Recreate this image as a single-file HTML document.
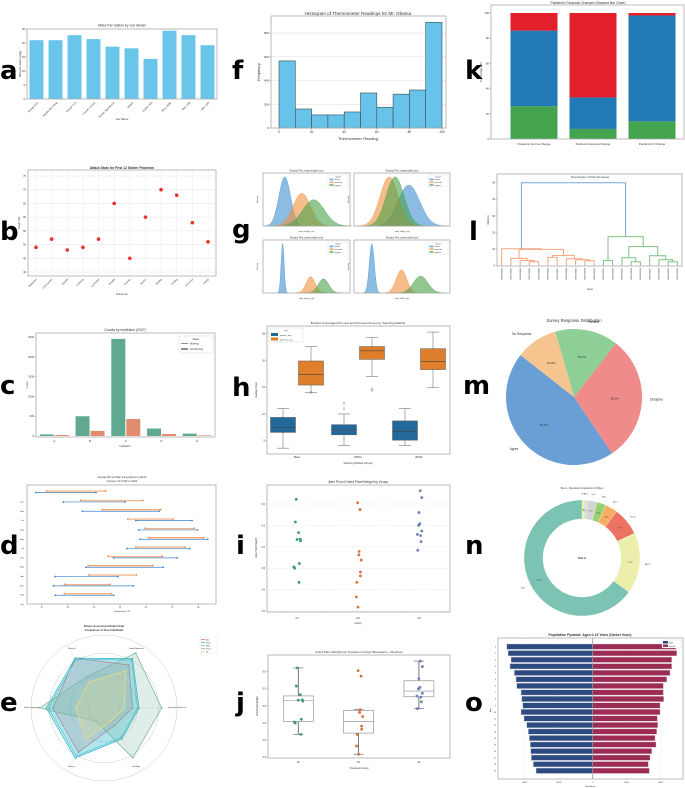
<!DOCTYPE html>
<html><head><meta charset="utf-8"><style>
html,body{margin:0;padding:0;background:#fff;}
svg{display:block;}
</style></head><body>
<svg id="fig" xmlns="http://www.w3.org/2000/svg" width="685" height="788" viewBox="0 0 685 788" font-family="Liberation Sans, sans-serif">
<rect x="0" y="0" width="685" height="788" fill="#fff"/>
<g font-family="DejaVu Sans, Liberation Sans, sans-serif" font-weight="bold" font-size="26" fill="#000">
<text x="0" y="79">a</text>
<text x="232" y="79">f</text>
<text x="465" y="79">k</text>
<text x="0" y="240">b</text>
<text x="232" y="238">g</text>
<text x="469" y="240">l</text>
<text x="0" y="394">c</text>
<text x="232" y="396">h</text>
<text x="463" y="394">m</text>
<text x="0" y="554">d</text>
<text x="236" y="554">i</text>
<text x="465" y="554">n</text>
<text x="0" y="711">e</text>
<text x="236" y="711">j</text>
<text x="465" y="711">o</text>
</g>
</svg>
<script>
// ---------- data ----------
const aCats=['Mazda RX4','Mazda RX4 Wag','Datsun 710','Hornet 4 Drive','Hornet Sportabout','Valiant','Duster 360','Merc 240D','Merc 230','Merc 280'];
const aVals=[21,21,22.8,21.4,18.7,18.1,14.3,24.4,22.8,19.2];
const fEdges=[0,10,20,30,40,50,60,70,80,90,100];
const fCounts=[565,160,110,110,135,295,175,285,320,890];
const kCats=['Pandemic Income Change','Pandemic Expense Change','Pandemic FI Change'];
const kGreen=[26,8,14];
const kBlue=[60,25,84];
const kRed=[14,67,2];
const bNames=['Bulbasaur','Charmander','Squirtle','Chikorita','Cyndaquil','Totodile','Treecko','Torchic','Mudkip','Turtwig','Chimchar','Piplup'];
const bAttack=[49,52,48,49,52,65,45,60,70,68,58,51];
const gTitles=['sepal length (cm)','sepal width (cm)','petal length (cm)','petal width (cm)'];
const gMeans=[[5.0,5.94,6.59],[3.43,2.77,2.97],[1.46,4.26,5.55],[0.25,1.33,2.03]];
const gSds=[[0.32,0.48,0.6],[0.36,0.3,0.3],[0.15,0.45,0.52],[0.09,0.19,0.26]];
const gRanges=[[3.8,8.6],[1.6,4.8],[-0.5,8.2],[-0.4,3.1]];
const lLinks=[[3,4,2.4],[2,20,3.2],[1,21,4.4],[9,10,3.0],[8,23,3.6],[7,24,4.2],[5,6,5.0],[26,25,6.2],[22,27,9.8],[0,28,10.2],
[11,12,3.2],[14,15,2.4],[13,31,4.8],[18,19,2.4],[17,33,3.6],[16,34,6.0],[32,35,11.5],[30,36,17.5],[29,37,50]];
const lGenes=['ENSG00001','ENSG00002','ENSG00003','ENSG00004','ENSG00005','ENSG00006','ENSG00007','ENSG00008','ENSG00009','ENSG00010','ENSG00011','ENSG00012','ENSG00013','ENSG00014','ENSG00015','ENSG00016','ENSG00017','ENSG00018','ENSG00019','ENSG00020'];
const cCats=['A','B','C','D','E'];
const cWorking=[40,500,2460,190,60];
const cNotWorking=[25,130,430,50,15];
const hGroups=['Basic','DMSA','BSSD'];
const hPre=[[3.6,6.55,7.5,9.35,11],[4.1,6.1,7,8,10],[4.1,5.1,6.7,8.7,11]];
const hPost=[[14,15.4,17.4,19.9,22.6],[17,20.2,21.8,22.6,24.3],[14.9,18.3,19.8,22.2,25.3]];
const hPreOut=[[],[11,12],[]];
const hPostOut=[[14],[14.4,14.7],[]];
const mLabels=['Agree','Disagree','Neutral','No Response'];
const mVals=[45,30,15,10];
const pgCtrl=[4.17,5.58,5.18,6.11,4.50,4.61,5.17,4.53,5.33,5.14];
const pgTrt1=[4.81,4.17,4.41,3.59,5.87,3.83,6.03,4.89,4.32,4.69];
const pgTrt2=[6.31,5.12,5.54,5.50,5.37,5.29,4.92,6.15,5.80,5.26];
const jitCtrl=[0.05,-0.04,0.08,-0.02,-0.06,0.06,0.0,-0.08,0.04,0.09];
const jitTrt1=[0.02,-0.03,0.06,0.0,0.05,-0.04,-0.01,0.03,0.06,0.08];
const jitTrt2=[0.03,0.05,0.02,-0.01,0.07,-0.04,-0.03,0.07,0.0,0.04];
const nLabels=['TiO2','MnO','CaO','MgO','Na2O','Fe2O3','Al2O3','SiO2'];
const nVals=[0.6,0.9,2.7,2.6,3.4,7.8,17,65];
const dMonths=['Dec','Nov','Oct','Sep','Aug','Jul','Jun','May','Apr','Mar','Feb','Jan'];
const dBlueMin=[22.7,33.3,40.6,61.1,62.2,62.7,57.7,52.5,42,30.2,29.5,30.2];
const dBlueMax=[45.8,56.9,70,82.6,84.6,88.6,81.7,76.9,71.6,54.2,60.1,52.6];
const dOrgMin=[26.9,39.9,48.2,58,64.6,66,61.1,50.5,42.8,43.1,33.7,33.7];
const dOrgMax=[49.6,63.7,70.6,75.3,83.4,87.1,79.9,71.2,67.5,61.3,51.1,51.7];
const eAxes=['Muscular Endurance','Cardio Endurance','Strength','Body Composition','Balance','Flexibility'];
const eNames=['Alex','Sarah','Mike','Emma','Jill'];
const eVals=[[3.9,6.8,7.9,7.0,7.0,2.8],[4.8,7.8,7.9,7.9,7.9,4.9],[4.6,7.6,7.7,7.6,7.6,4.7],[7.9,8.7,4.9,8.8,2.1,7.9],[2.8,5.9,4.1,3.9,5.0,2.0]];
const oAges=['0','1','2','3','4','5','6','7','8','9','10','11','12','13','14','15','16','17','18','19'];
const oMale=[5059,4980,4804,4863,4608,4510,4471,4216,4176,4118,4216,4039,3882,3784,3725,3667,3647,3608,3490,3333];
const oFemale=[4902,4941,4647,4647,4549,4353,4157,4157,4176,3961,3961,3804,3824,3765,3667,3725,3471,3373,3275,3333];

// ---------- helpers ----------
const NS='http://www.w3.org/2000/svg';
const svg=document.getElementById('fig');
function mk(tag,a,p){const e=document.createElementNS(NS,tag);for(const k in a)e.setAttribute(k,a[k]);(p||svg).appendChild(e);return e;}
function txt(x,y,s,size,p,extra){const t=mk('text',Object.assign({x:x,y:y,'font-size':size,fill:'#333'},extra||{}),p);t.textContent=s;return t;}
function lin(d0,d1,r0,r1){return v=>r0+(v-d0)/(d1-d0)*(r1-r0);}
function frame(x0,y0,x1,y1,p){return mk('rect',{x:x0,y:y0,width:x1-x0,height:y1-y0,fill:'none',stroke:'#aaa','stroke-width':0.8},p);}
function grp(name){const g=mk('g',{});return g;}
function yticks(p,x0,vals,sc,size,fmt,grid,x1){vals.forEach(v=>{const y=sc(v);mk('line',{x1:x0-1.5,x2:x0,y1:y,y2:y,stroke:'#666','stroke-width':0.4},p);if(grid)mk('line',{x1:x0,x2:x1,y1:y,y2:y,stroke:'#ddd','stroke-width':0.5},p);txt(x0-2,y+size*0.35,fmt?fmt(v):String(v),size,p,{'text-anchor':'end'});});}
function xticks(p,y0,vals,sc,size,fmt){vals.forEach(v=>{const x=sc(v);mk('line',{x1:x,x2:x,y1:y0,y2:y0+1.5,stroke:'#666','stroke-width':0.4},p);txt(x,y0+2+size,fmt?fmt(v):String(v),size,p,{'text-anchor':'middle'});});}

// ---------- a ----------
(function(){
const g=grp('panel-a-bar-chart');
const x0=27,x1=217,y0=29,y1=99;const ys=lin(0,25,y1,y0);const step=(x1-x0)/aCats.length;
txt(122,26.5,'Miles Per Gallon by Car Model',3.5,g,{'text-anchor':'middle'});
yticks(g,x0,[0,5,10,15,20,25],ys,2.8);
aVals.forEach((v,i)=>{const cx=x0+step*(i+0.5);
const r=mk('rect',{x:cx-7,y:ys(v),width:14,height:y1-ys(v),fill:'#6ac5ea'},g);


txt(cx+2,y1+4,aCats[i],2.6,g,{'text-anchor':'end',transform:`rotate(-45 ${cx+2} ${y1+4})`});});
frame(x0,y0,x1,y1,g);
txt(122,120,'Car Name',2.8,g,{'text-anchor':'middle'});
txt(21,64,'Miles per Gallon (mpg)',2.6,g,{'text-anchor':'middle',transform:'rotate(-90 21 64)'});
})();

// ---------- f ----------
(function(){
const g=grp('panel-f-histogram');
const x0=271,x1=446,y0=16,y1=128;const xs=lin(0,100,279,442),ys=lin(0,800,128,33);
txt(358,15,'Histogram of Thermometer Readings for Mr. Obama',4.6,g,{'text-anchor':'middle'});
yticks(g,x0,[0,200,400,600,800],ys,3,null,true,x1);
fCounts.forEach((c,i)=>{const r=mk('rect',{x:xs(fEdges[i]),y:ys(c),width:xs(fEdges[i+1])-xs(fEdges[i]),height:y1-ys(c),fill:'#67c3ea',stroke:'#3a4a55','stroke-width':0.6},g);

});
frame(x0,y0,x1,y1,g);
xticks(g,y1,[0,20,40,60,80,100],xs,3.2);
txt(358,140,'Thermometer Reading',4,g,{'text-anchor':'middle'});
txt(260,72,'Frequency',3.8,g,{'text-anchor':'middle',transform:'rotate(-90 260 72)'});
})();

// ---------- k ----------
(function(){
const g=grp('panel-k-stacked-bar');
const x0=491,x1=684,y0=5,y1=139;const ys=lin(0,100,y1,13);const kx=i=>534+i*59;
txt(588,4,'Pandemic Financial Changes (Stacked Bar Chart)',3.4,g,{'text-anchor':'middle'});
yticks(g,x0,[0,20,40,60,80,100],ys,2.8);
kCats.forEach((c,i)=>{let base=0;[[kGreen,'#43a34f'],[kBlue,'#2179b5'],[kRed,'#e41f2c']].forEach(([arr,col],j)=>{const v=arr[i];
const r=mk('rect',{x:kx(i)-23.5,y:ys(base+v),width:47,height:ys(base)-ys(base+v),fill:col},g);


base+=v;});
txt(kx(i),145,c,2.8,g,{'text-anchor':'middle'});});
frame(x0,y0,x1,y1,g);
txt(482,72,'Percentage (%)',2.8,g,{'text-anchor':'middle',transform:'rotate(-90 482 72)'});
})();

// ---------- b ----------
(function(){
const g=grp('panel-b-scatter');
const x0=28,x1=216,y0=170,y1=276;const ys=lin(40,75,272,176);const xs=i=>36+i*(172/11);
txt(122,169,'Attack Stats for First 12 Starter Pokemon',3.3,g,{'text-anchor':'middle','font-weight':'bold'});
[40,45,50,55,60,65,70,75].forEach(v=>{mk('line',{x1:x0,x2:x1,y1:ys(v),y2:ys(v),stroke:'#e6e6e6','stroke-width':0.5},g);txt(x0-2,ys(v)+1,String(v),2.6,g,{'text-anchor':'end'});});
bNames.forEach((n,i)=>{mk('line',{x1:xs(i),x2:xs(i),y1:y0,y2:y1,stroke:'#eee','stroke-width':0.5},g);txt(xs(i)+1,y1+3.5,n,2.4,g,{'text-anchor':'end',transform:`rotate(-45 ${xs(i)+1} ${y1+3.5})`});});
bAttack.forEach((v,i)=>{const c=mk('circle',{cx:xs(i),cy:ys(v),r:1.8,fill:'#e8322c'},g);

});
frame(x0,y0,x1,y1,g);
txt(122,295,'Pokemon',2.8,g,{'text-anchor':'middle'});
txt(20,223,'Attack Stat',2.6,g,{'text-anchor':'middle',transform:'rotate(-90 20 223)'});
})();

// ---------- g ----------
(function(){
const g=grp('panel-g-density-grid');
const boxes=[[263,173,350,226],[354,173,450,226],[263,240,350,293],[354,240,450,293]];
const cols=['#3f8fcf','#f0903a','#4aa24a'];
boxes.forEach((b,k)=>{const [x0,y0,x1,y1]=b;const xs=lin(gRanges[k][0],gRanges[k][1],x0,x1);
txt((x0+x1)/2,y0-1.5,'Density Plot: '+gTitles[k],2.5,g,{'text-anchor':'middle'});
let maxd=0;gSds[k].forEach(s=>{maxd=Math.max(maxd,1/s);});
const ys=lin(0,maxd*1.08,y1,y0);
gMeans[k].forEach((m,j)=>{const s=gSds[k][j];let d=`M${xs(m-3.5*s)},${y1}`;for(let t=-3.5;t<=3.5;t+=0.1){const v=m+t*s;d+=` L${xs(v).toFixed(2)},${ys(Math.exp(-t*t/2)/s).toFixed(2)}`;}d+=` L${xs(m+3.5*s)},${y1} Z`;
const p=mk('path',{d:d,fill:cols[j],'fill-opacity':0.6,stroke:cols[j],'stroke-width':0.4},g);

});
frame(x0,y0,x1,y1,g);
const lx=x1-22;mk('rect',{x:lx,y:y0+2,width:20,height:12,fill:'#fff',stroke:'#ddd','stroke-width':0.4},g);
txt(lx+10,y0+4.5,'species',1.8,g,{'text-anchor':'middle'});
['setosa','versicolor','virginica'].forEach((s,j)=>{mk('rect',{x:lx+1.5,y:y0+5.5+j*2.8,width:4,height:1.8,fill:cols[j],'fill-opacity':0.7},g);txt(lx+6.5,y0+7.2+j*2.8,s,1.8,g);});
txt((x0+x1)/2,y1+6,gTitles[k].replace(' (','_(').replace(/ /g,'_'),1.9,g,{'text-anchor':'middle'});
txt(x0-5,(y0+y1)/2,'Density',2,g,{'text-anchor':'middle',transform:`rotate(-90 ${x0-5} ${(y0+y1)/2})`});});
})();

// ---------- l ----------
(function(){
const g=grp('panel-l-dendrogram');
const x0=497,x1=682,y0=174,y1=266;const xs=lin(0,200,x0,x1),ys=lin(0,50,265.7,182.7);
txt(590,178,'Dendrogram of First 20 Genes',2.8,g,{'text-anchor':'middle'});
yticks(g,x0,[0,10,20,30,40,50],ys,2.5);
const pos={},ht={};for(let i=0;i<20;i++){pos[i]=5+10*i;ht[i]=0;}
lLinks.forEach((L,k)=>{const id=20+k;const [a,b,h]=L;const col=k===18?'#7aa3d6':(k<10?'#f4a57e':'#7cc47f');
const p=mk('path',{d:`M${xs(pos[a])},${ys(ht[a])} V${ys(h)} H${xs(pos[b])} V${ys(ht[b])}`,fill:'none',stroke:col,'stroke-width':1},g);


pos[id]=(pos[a]+pos[b])/2;ht[id]=h;});
frame(x0,y0,x1,y1,g);
lGenes.forEach((n,i)=>{const x=xs(5+10*i);txt(x+0.8,268,n,2.1,g,{'text-anchor':'end',transform:`rotate(-90 ${x+0.8} 268)`});});
txt(590,290,'Gene',2.5,g,{'text-anchor':'middle'});
txt(489,220,'Distance',2.4,g,{'text-anchor':'middle',transform:'rotate(-90 489 220)'});
})();

// ---------- c ----------
(function(){
const g=grp('panel-c-grouped-bar');
const x0=36,x1=215,y0=333,y1=437;const ys=lin(0,2500,436,337.3);const cx=i=>54.3+i*35.75;
txt(125,331,'Counts by Institution (2007)',3.4,g,{'text-anchor':'middle'});
yticks(g,x0,[0,500,1000,1500,2000,2500],ys,2.6);
cCats.forEach((c,i)=>{
const r1=mk('rect',{x:cx(i)-14.5,y:ys(cWorking[i]),width:14,height:436-ys(cWorking[i]),fill:'#5ea98f'},g);


const r2=mk('rect',{x:cx(i)+0.5,y:ys(cNotWorking[i]),width:14,height:436-ys(cNotWorking[i]),fill:'#e28c6f'},g);


txt(cx(i),442,c,2.8,g,{'text-anchor':'middle'});});
frame(x0,y0,x1,y1,g);
mk('rect',{x:179,y:336,width:34,height:17,fill:'#fff',stroke:'#ccc','stroke-width':0.4},g);
txt(196,340,'Status',2.4,g,{'text-anchor':'middle'});
mk('line',{x1:181,x2:188,y1:343.5,y2:343.5,stroke:'#444','stroke-width':0.6},g);txt(190,344.5,'Working',2.4,g);
mk('line',{x1:181,x2:188,y1:349,y2:349,stroke:'#444','stroke-width':1.2},g);txt(190,350,'Not Working',2.4,g);
txt(125,447,'Institution',2.6,g,{'text-anchor':'middle'});
txt(28,385,'Count',2.6,g,{'text-anchor':'middle',transform:'rotate(-90 28 385)'});
})();

// ---------- h ----------
(function(){
const g=grp('panel-h-boxplot');
const x0=267,x1=450,y0=326,y1=454;const ys=lin(5,25,440.7,333.7);const gx=i=>297+i*61;
txt(358,324,'Boxplot of Averaged Pre-test and Post-test Scores by Teaching Method',3,g,{'text-anchor':'middle'});
yticks(g,x0,[5,10,15,20,25],ys,2.6);
function box(cx,s,col,outs,name){const b=mk('g',{},g);
mk('line',{x1:cx,x2:cx,y1:ys(s[0]),y2:ys(s[1]),stroke:'#777','stroke-width':0.6},b);
mk('line',{x1:cx,x2:cx,y1:ys(s[3]),y2:ys(s[4]),stroke:'#777','stroke-width':0.6},b);
mk('line',{x1:cx-6,x2:cx+6,y1:ys(s[0]),y2:ys(s[0]),stroke:'#777','stroke-width':0.6},b);
mk('line',{x1:cx-6,x2:cx+6,y1:ys(s[4]),y2:ys(s[4]),stroke:'#777','stroke-width':0.6},b);
mk('rect',{x:cx-12.5,y:ys(s[3]),width:25,height:ys(s[1])-ys(s[3]),fill:col,stroke:'#555','stroke-width':0.5},b);
mk('line',{x1:cx-12.5,x2:cx+12.5,y1:ys(s[2]),y2:ys(s[2]),stroke:'#444','stroke-width':0.6},b);
outs.forEach(o=>mk('circle',{cx:cx,cy:ys(o),r:1,fill:'none',stroke:'#777','stroke-width':0.4},b));}
hGroups.forEach((n,i)=>{box(gx(i)-14,hPre[i],'#24699c',hPreOut[i],'box-pretest-'+n.toLowerCase());box(gx(i)+14,hPost[i],'#e07f2b',hPostOut[i],'box-posttest-'+n.toLowerCase());txt(gx(i),458,n,2.6,g,{'text-anchor':'middle'});});
frame(x0,y0,x1,y1,g);
mk('rect',{x:269,y:328,width:34,height:14,fill:'#fff',stroke:'#ccc','stroke-width':0.4},g);
txt(286,331,'test',2.2,g,{'text-anchor':'middle'});
mk('rect',{x:271,y:333,width:7,height:3,fill:'#24699c'},g);txt(280,335.8,'pretest_avg',2.2,g);
mk('rect',{x:271,y:337.5,width:7,height:3,fill:'#e07f2b'},g);txt(280,340.3,'posttest_avg',2.2,g);
txt(358,464,'Teaching Method (Group)',2.6,g,{'text-anchor':'middle'});
txt(257,390,'Average Score',2.4,g,{'text-anchor':'middle',transform:'rotate(-90 257 390)'});
})();

// ---------- m ----------
(function(){
const g=grp('panel-m-pie');
const cx=574,cy=397,R=68;const cols=['#6a9fd5','#ef8b8a','#8dcf96','#f5c48f'];
txt(574,322,'Survey Response Distribution',4.2,g,{'text-anchor':'middle'});
const tot=mVals.reduce((a,b)=>a+b,0);let a0=142;
mVals.forEach((v,i)=>{const a1=a0+v/tot*360;const r0=a0*Math.PI/180,r1=a1*Math.PI/180;
const p=mk('path',{d:`M${cx},${cy} L${cx+R*Math.cos(r0)},${cy-R*Math.sin(r0)} A${R},${R} 0 ${a1-a0>180?1:0} 0 ${cx+R*Math.cos(r1)},${cy-R*Math.sin(r1)} Z`,fill:cols[i]},g);


const am=(a0+a1)/2*Math.PI/180;
txt(cx+R*0.6*Math.cos(am),cy-R*0.6*Math.sin(am)+1,v.toFixed(1)+'%',3,g,{'text-anchor':'middle'});
txt(cx+R*1.12*Math.cos(am),cy-R*1.12*Math.sin(am)+1,mLabels[i],3.2,g,{'text-anchor':Math.cos(am)<-0.1?'end':(Math.cos(am)>0.1?'start':'middle')});
a0=a1;});
})();

// ---------- i ----------
(function(){
const g=grp('panel-i-jitter');
const x0=267,x1=450,y0=485,y1=612;const ys=lin(3.5,6.0,611,504);const gx=i=>297+i*61;
txt(358,483,'Jitter Plot of Dried Plant Weight by Group',3.3,g,{'text-anchor':'middle'});
[3.5,4.0,4.5,5.0,5.5,6.0].forEach(v=>{mk('line',{x1:x0,x2:x1,y1:ys(v),y2:ys(v),stroke:'#ddd','stroke-width':0.5,'stroke-dasharray':'1.5,1'},g);txt(x0-2,ys(v)+1,v.toFixed(1),2.5,g,{'text-anchor':'end'});});
const sets=[[pgCtrl,jitCtrl,'#3f9a77','ctrl'],[pgTrt1,jitTrt1,'#d9703e','trt1'],[pgTrt2,jitTrt2,'#6b7fb6','trt2']];
sets.forEach(([vals,jit,col,n],i)=>{vals.forEach((v,k)=>{const c=mk('circle',{cx:gx(i)+jit[k]*40,cy:ys(v),r:1.4,fill:col},g);

});
txt(gx(i),619,n,2.5,g,{'text-anchor':'middle'});});
frame(x0,y0,x1,y1,g);
txt(358,624,'Group',2.5,g,{'text-anchor':'middle'});
txt(257,548,'Dried Plant Weight',2.4,g,{'text-anchor':'middle',transform:'rotate(-90 257 548)'});
})();

// ---------- j ----------
(function(){
const g=grp('panel-j-beeswarm-boxplot');
const x0=268,x1=450,y0=655,y1=758;const ys=lin(3.5,6.0,757.3,671.7);const gx=i=>298.3+i*60.3;
txt(359,653,'Dried Plant Weights by Treatment Group (Beeswarm + Boxplot)',3.1,g,{'text-anchor':'middle'});
yticks(g,x0,[3.5,4.0,4.5,5.0,5.5,6.0],ys,2.4,v=>v.toFixed(1));
function q(a,p){const s=[...a].sort((x,y)=>x-y);const idx=(s.length-1)*p;const lo=Math.floor(idx);return s[lo]+(s[Math.min(lo+1,s.length-1)]-s[lo])*(idx-lo);}
const sets=[[pgCtrl,jitCtrl,'#3f9a77','ctrl'],[pgTrt1,jitTrt1,'#d9703e','trt1'],[pgTrt2,jitTrt2,'#6b7fb6','trt2']];
sets.forEach(([vals,jit,col,n],i)=>{const cx=gx(i);const q1=q(vals,.25),q2=q(vals,.5),q3=q(vals,.75);const iqr=q3-q1;
const inside=vals.filter(v=>v>=q1-1.5*iqr&&v<=q3+1.5*iqr);const mn=Math.min(...inside),mx=Math.max(...inside);
const b=mk('g',{},g);
mk('line',{x1:cx,x2:cx,y1:ys(mn),y2:ys(q1),stroke:'#555','stroke-width':0.8},b);
mk('line',{x1:cx,x2:cx,y1:ys(q3),y2:ys(mx),stroke:'#555','stroke-width':0.8},b);
mk('line',{x1:cx-5,x2:cx+5,y1:ys(mn),y2:ys(mn),stroke:'#555','stroke-width':0.6},b);
mk('line',{x1:cx-5,x2:cx+5,y1:ys(mx),y2:ys(mx),stroke:'#555','stroke-width':0.6},b);
mk('rect',{x:cx-15,y:ys(q3),width:30,height:ys(q1)-ys(q3),fill:'#fff',stroke:'#888','stroke-width':0.6},b);
mk('line',{x1:cx-15,x2:cx+15,y1:ys(q2),y2:ys(q2),stroke:'#888','stroke-width':0.6},b);
vals.forEach((v,k)=>{const c=mk('circle',{cx:cx+jit[k]*50,cy:ys(v),r:1.4,fill:col},g);

});
txt(cx,763,n,2.4,g,{'text-anchor':'middle'});});
frame(x0,y0,x1,y1,g);
txt(359,769,'Treatment Group',2.5,g,{'text-anchor':'middle'});
txt(258,706,'Dried Plant Weight',2.3,g,{'text-anchor':'middle',transform:'rotate(-90 258 706)'});
})();

// ---------- n ----------
(function(){
const g=grp('panel-n-donut');
const cx=582,cy=558,R=58,r=39;const cols=['#f2ee6b','#cfe5dc','#d4d4d4','#98d073','#f5ad62','#ec7262','#ebefab','#7cc3b4'];
txt(582,489,'Site A - Chemical Composition of Pottery',2.4,g,{'text-anchor':'middle'});
const tot=nVals.reduce((a,b)=>a+b,0);let a0=0;
nVals.forEach((v,i)=>{const a1=a0+v/tot*360;const t0=a0*Math.PI/180,t1=a1*Math.PI/180;const L=a1-a0>180?1:0;
const P=(rr,t)=>`${(cx+rr*Math.sin(t)).toFixed(2)},${(cy-rr*Math.cos(t)).toFixed(2)}`;
const p=mk('path',{d:`M${P(R,t0)} A${R},${R} 0 ${L} 1 ${P(R,t1)} L${P(r,t1)} A${r},${r} 0 ${L} 0 ${P(r,t0)} Z`,fill:cols[i],stroke:'#fff','stroke-width':0.3},g);


const tm=(a0+a1)/2*Math.PI/180;
txt(cx+48*Math.sin(tm),cy-48*Math.cos(tm)+0.7,v.toFixed(1)+'%',1.8,g,{'text-anchor':'middle'});
txt(cx+(R+6+i*0.3)*Math.sin(tm),cy-(R+6+i*0.3)*Math.cos(tm)+0.7,nLabels[i],1.8,g,{'text-anchor':'middle'});
a0=a1;});
txt(cx,cy+1,'Site A',3,g,{'text-anchor':'middle','font-weight':'bold'});
})();

// ---------- d ----------
(function(){
const g=grp('panel-d-dumbbell');
const x0=27,x1=216,y0=485,y1=604;const xs=lin(25,85,41.7,198.3);const ry=i=>492.3+i*9.33;
txt(122,478,'Average Min and Max Temperatures by Month',2.4,g,{'text-anchor':'middle'});
txt(122,482,'Clemson, SC (1900 vs 2020)',2.4,g,{'text-anchor':'middle'});
dMonths.forEach((m,i)=>{const y=ry(i);
const o=mk('line',{x1:xs(dOrgMin[i]),x2:xs(dOrgMax[i]),y1:y-1.3,y2:y-1.3,stroke:'#f08a4b','stroke-width':0.7},g);


mk('line',{x1:xs(dOrgMin[i]),x2:xs(dOrgMax[i]),y1:y-0.6,y2:y-0.6,stroke:'#fad3bd','stroke-width':0.8},g);
[dOrgMin[i],dOrgMax[i]].forEach(v=>mk('circle',{cx:xs(v),cy:y-1.3,r:0.9,fill:'#f08a4b'},g));
const b=mk('line',{x1:xs(dBlueMin[i]),x2:xs(dBlueMax[i]),y1:y+0.3,y2:y+0.3,stroke:'#3a85c6','stroke-width':0.7},g);


[dBlueMin[i],dBlueMax[i]].forEach(v=>mk('circle',{cx:xs(v),cy:y+0.3,r:0.9,fill:'#3a85c6'},g));
txt(x0-3,ry(i)+9.33+0.8,m,2.2,g,{'text-anchor':'end'});});
frame(x0,y0,x1,y1,g);
xticks(g,y1,[25,35,45,55,65,75,85],xs,2.2);
txt(122,612,'Temperature (°F)',2.2,g,{'text-anchor':'middle'});
})();

// ---------- e ----------
(function(){
const g=grp('panel-e-radar');
const cx=104,cy=708,R=73;const cols=['#e8626b','#20b3c4','#4fc3d4','#6fb39b','#f0df78'];
txt(104,627,'Fitness Assessment Radar Chart',2.6,g,{'text-anchor':'middle','font-weight':'bold'});
txt(104,631,'Comparison of Five Individuals',2.6,g,{'text-anchor':'middle','font-weight':'bold'});
[2.2,4.6,7.5,10].forEach(v=>mk('circle',{cx:cx,cy:cy,r:v/10*R,fill:'none',stroke:'#ccc','stroke-width':0.5},g));
const ang=k=>k*Math.PI/3;
eAxes.forEach((a,k)=>{mk('line',{x1:cx,y1:cy,x2:cx+R*Math.cos(ang(k)),y2:cy-R*Math.sin(ang(k)),stroke:'#ddd','stroke-width':0.4},g);
const lx=cx+(R*0.8+6)*Math.cos(ang(k)),ly=cy-(R*0.88+4)*Math.sin(ang(k));txt(lx,ly,a,1.9,g,{'text-anchor':Math.cos(ang(k))>0.6?'start':(Math.cos(ang(k))<-0.6?'end':'middle')});});
eVals.forEach((vals,s)=>{const pts=vals.map((v,k)=>`${(cx+v/10*R*Math.cos(ang(k))).toFixed(2)},${(cy-v/10*R*Math.sin(ang(k))).toFixed(2)}`).join(' ');
const p=mk('polygon',{points:pts,fill:cols[s],'fill-opacity':0.22,stroke:cols[s],'stroke-width':0.7},g);


vals.forEach((v,k)=>mk('circle',{cx:cx+v/10*R*Math.cos(ang(k)),cy:cy-v/10*R*Math.sin(ang(k)),r:0.7,fill:cols[s]},g));});
mk('rect',{x:200,y:637,width:17,height:16,fill:'#fff',stroke:'#ddd','stroke-width':0.3},g);
eNames.forEach((n,s)=>{mk('line',{x1:201,x2:205,y1:639.5+s*3,y2:639.5+s*3,stroke:cols[s],'stroke-width':0.7},g);txt(206,640.3+s*3,n,1.8,g);});
})();

// ---------- o ----------
(function(){
const g=grp('panel-o-population-pyramid');
const x0=498,x1=683,y0=638,y1=779;const xs=lin(0,2000,592.7,626.7);const ry=i=>646.7+i*6.53;
txt(590,636,'Population Pyramid: Ages 0-19 Years (Darker Hues)',3.4,g,{'text-anchor':'middle','font-weight':'bold'});
[-4000,-2000,0,2000,4000].forEach(v=>{mk('line',{x1:xs(v),x2:xs(v),y1:y0,y2:y1,stroke:v===0?'#999':'#eee','stroke-width':v===0?0.8:0.5},g);txt(xs(v),y1+4,String(Math.abs(v)),2.2,g,{'text-anchor':'middle'});});
oAges.forEach((a,i)=>{const y=ry(i);
const m=mk('rect',{x:xs(-oMale[i]),y:y-2.7,width:xs(0)-xs(-oMale[i]),height:5.4,fill:'#2d4b80',stroke:'#ccd','stroke-width':0.4},g);


const f=mk('rect',{x:xs(0),y:y-2.7,width:xs(oFemale[i])-xs(0),height:5.4,fill:'#9c2c55',stroke:'#dcc','stroke-width':0.4},g);


txt(x0-2,y+0.8,a,2,g,{'text-anchor':'end'});});
frame(x0,y0,x1,y1,g);
mk('rect',{x:662,y:640,width:19,height:8,fill:'#fff',stroke:'#ccc','stroke-width':0.3},g);
mk('rect',{x:663,y:641,width:5,height:2.5,fill:'#2d4b80'},g);txt(669,643.3,'Male',1.9,g);
mk('rect',{x:663,y:644.5,width:5,height:2.5,fill:'#9c2c55'},g);txt(669,646.8,'Female',1.9,g);
txt(590,787,'Population',2.2,g,{'text-anchor':'middle'});
txt(491,710,'Age',2.2,g,{'text-anchor':'middle',transform:'rotate(-90 491 710)'});
})();
</script>
</body></html>
